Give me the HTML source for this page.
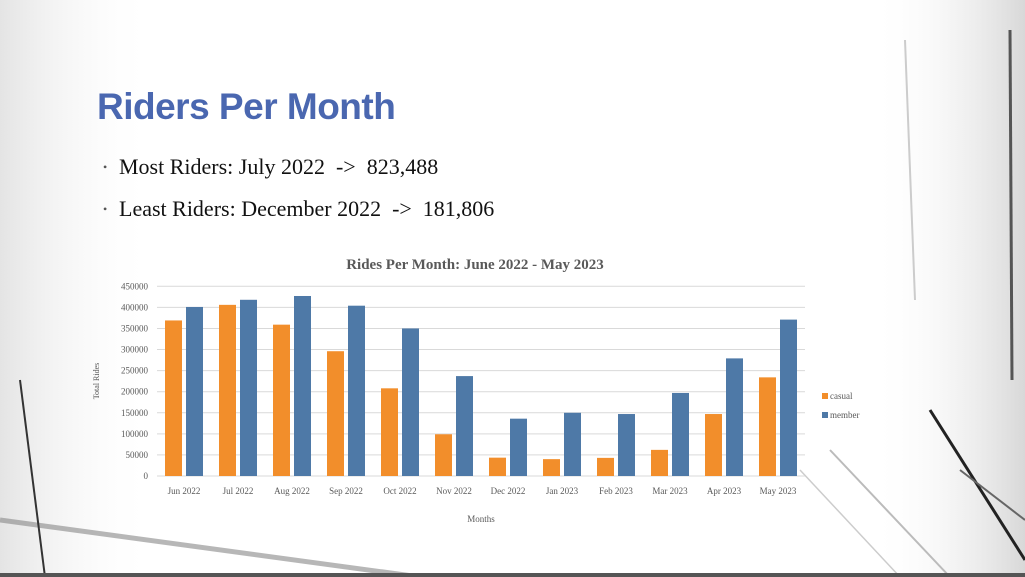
<!DOCTYPE html>
<html><head><meta charset="utf-8"><style>
body{margin:0;width:1025px;height:577px;overflow:hidden;background:#fff;position:relative;font-family:"Liberation Serif",serif}
#bg{position:absolute;left:0;top:0}
h1{position:absolute;left:97px;top:86px;margin:0;font:bold 37px "Liberation Sans",sans-serif;color:#4a67b0;letter-spacing:-0.5px}
.b{position:absolute;left:103px;font-size:22px;color:#111}
.b span{display:inline-block;width:16px;font-size:12px;color:#555;vertical-align:3px}
#chart{position:absolute;left:0;top:0}
</style></head><body>
<svg id="bg" width="1025" height="577">
<defs><linearGradient id="g1" x1="0" x2="1"><stop offset="0" stop-color="#e4e4e4"/><stop offset="0.15" stop-color="#fff" stop-opacity="0"/><stop offset="0.85" stop-color="#fff" stop-opacity="0"/><stop offset="1" stop-color="#d8d8d8"/></linearGradient></defs>
<rect width="1025" height="577" fill="url(#g1)"/>
<line x1="0" y1="520" x2="420" y2="577" stroke="#888" stroke-width="5" opacity="0.6"/>
<line x1="20" y1="380" x2="45" y2="577" stroke="#333" stroke-width="2"/>
<line x1="905" y1="40" x2="915" y2="300" stroke="#ccc" stroke-width="2"/>
<line x1="1010" y1="30" x2="1012" y2="380" stroke="#555" stroke-width="3"/>
<line x1="930" y1="410" x2="1025" y2="560" stroke="#222" stroke-width="3"/>
<line x1="830" y1="450" x2="950" y2="577" stroke="#bbb" stroke-width="2"/>
<line x1="800" y1="470" x2="900" y2="577" stroke="#ccc" stroke-width="1.5"/>
<line x1="960" y1="470" x2="1025" y2="520" stroke="#666" stroke-width="2"/>
<rect x="0" y="573" width="1025" height="4" fill="#555"/>
</svg>
<h1>Riders Per Month</h1>
<div class="b" style="top:154px"><span>•</span>Most Riders: July 2022&nbsp; -&gt;&nbsp; 823,488</div>
<div class="b" style="top:196px"><span>•</span>Least Riders: December 2022&nbsp; -&gt;&nbsp; 181,806</div>
<svg id="chart" width="1025" height="577"></svg>
<script>
const categories=["Jun 2022","Jul 2022","Aug 2022","Sep 2022","Oct 2022","Nov 2022","Dec 2022","Jan 2023","Feb 2023","Mar 2023","Apr 2023","May 2023"];
const casual=[369000,406000,359000,296000,208000,99000,43500,40000,43000,62000,147000,234000];
const member=[401000,418000,427000,404000,350000,237000,136000,150000,147000,197000,279000,371000];
const yTicks=[0,50000,100000,150000,200000,250000,300000,350000,400000,450000];
const NS="http://www.w3.org/2000/svg";
const svg=document.getElementById('chart');
const X0=157,X1=805,Y0=476,Y1=286.3,YMAX=450000;
const y=v=>Y0-(v/YMAX)*(Y0-Y1);
const gw=(X1-X0)/categories.length;
const x=i=>X0+i*gw;
function mk(t,a){const e=document.createElementNS(NS,t);for(const k in a)e.setAttribute(k,a[k]);svg.appendChild(e);return e;}
const title=mk('text',{x:475,y:269,'text-anchor':'middle','font-size':15,'font-weight':'bold',fill:'#595959','font-family':'Liberation Serif,serif'});
title.textContent='Rides Per Month: June 2022 - May 2023';


yTicks.forEach(t=>{
 const l=mk('line',{x1:X0,x2:X1,y1:y(t),y2:y(t),stroke:'#d9d9d9','stroke-width':1});
 
 
 const tx=mk('text',{x:148,y:y(t)+3,'text-anchor':'end','font-size':9,fill:'#595959'});
 tx.textContent=t;
 
 
});
categories.forEach((c,i)=>{
 const bw=17,cx=x(i)+gw/2;
 const r1=mk('rect',{x:cx-bw-2,y:y(casual[i]),width:bw,height:Y0-y(casual[i]),fill:'#f28e2b'});
 
 
 const r2=mk('rect',{x:cx+2,y:y(member[i]),width:bw,height:Y0-y(member[i]),fill:'#4e79a7'});
 
 
 const t=mk('text',{x:cx,y:494,'text-anchor':'middle','font-size':9,fill:'#595959'});
 t.textContent=c;
 
 
});
const xt=mk('text',{x:481,y:522,'text-anchor':'middle','font-size':9,fill:'#595959'});
xt.textContent='Months';


const yt=mk('text',{x:0,y:0,'text-anchor':'middle','font-size':8,fill:'#595959',transform:'translate(99,381) rotate(-90)'});
yt.textContent='Total Rides';


[['casual','#f28e2b',399],['member','#4e79a7',418]].forEach(([n,c,yy])=>{
 const r=mk('rect',{x:822,y:yy-6,width:6,height:6,fill:c});
 
 
 const t=mk('text',{x:830,y:yy,'font-size':9,fill:'#595959'});
 t.textContent=n;
 
 
});
</script>
</body></html>
